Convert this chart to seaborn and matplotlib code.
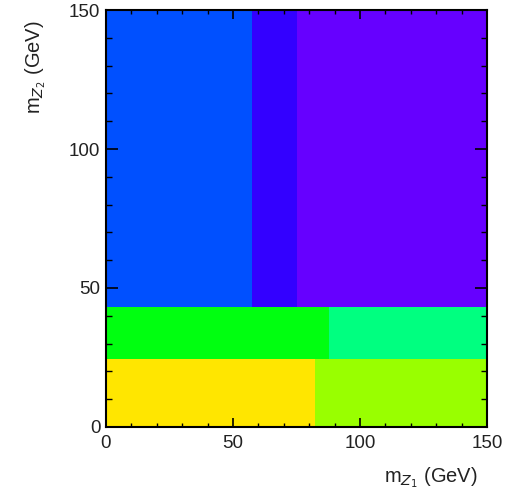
import numpy as np
import seaborn as sns
import matplotlib
matplotlib.use("Agg")
import matplotlib.pyplot as plt
from matplotlib.colors import ListedColormap

# Region layout (GeV)
y_bands = [0.0, 24.5, 43.0, 150.0]                 # horizontal band edges in m_Z2
band_splits = [[82.4], [87.8], [57.4, 75.1]]       # x split points in m_Z1 within each band
band_colors = [["#ffe600", "#99ff00"],
               ["#00ff10", "#00ff80"],
               ["#0050ff", "#3300ff", "#6600ff"]]
x_range = [0.0, 150.0]

sns.set_style("ticks")
plt.rcParams["font.family"] = ["Liberation Sans", "DejaVu Sans"]

# Build palette and a rectilinear grid of cells
palette = [c for row in band_colors for c in row]
x_edges = sorted(set([x_range[0], x_range[1]] + [s for row in band_splits for s in row]))
xc, yc, code = [], [], []
offset = 0
for b in range(len(y_bands) - 1):
    edges_b = [x_range[0]] + band_splits[b] + [x_range[1]]
    for i in range(len(x_edges) - 1):
        xm = 0.5 * (x_edges[i] + x_edges[i + 1])
        ym = 0.5 * (y_bands[b] + y_bands[b + 1])
        k = np.searchsorted(edges_b, xm) - 1
        xc.append(xm)
        yc.append(ym)
        code.append(offset + k + 1)
    offset += len(edges_b) - 1

cmap = ListedColormap(palette)

fig = plt.figure(figsize=(5.15, 4.93), dpi=100)
ax = fig.add_axes([0.2058, 0.1339, 0.9456 - 0.2058, 0.9797 - 0.1339])
sns.histplot(x=xc, y=yc, weights=code, bins=[x_edges, y_bands],
             cmap=cmap, vmin=0.5, vmax=len(palette) + 0.5, ax=ax)
ax.set_axisbelow(False)

ax.set_xlim(0, 150)
ax.set_ylim(0, 150)
ax.set_xticks([0, 50, 100, 150])
ax.set_yticks([0, 50, 100, 150])
ax.set_xticks(np.arange(0, 151, 10), minor=True)
ax.set_yticks(np.arange(0, 151, 10), minor=True)
ax.tick_params(axis="both", which="both", color="black", labelcolor="#222222")
ax.tick_params(axis="x", which="major", direction="in", length=6.5, width=1.2,
               top=True, bottom=True, labelsize=13.5, pad=6)
ax.tick_params(axis="x", which="minor", direction="in", length=3.2, width=1.0,
               top=True, bottom=True)
ax.tick_params(axis="y", which="major", direction="in", length=8.5, width=1.2,
               left=True, right=True, labelsize=13.5, pad=4)
ax.tick_params(axis="y", which="minor", direction="in", length=4.2, width=1.0,
               left=True, right=True)
for s in ax.spines.values():
    s.set_linewidth(1.5)
    s.set_color("black")
    s.set_visible(True)
    s.set_zorder(5)

ax.set_xlabel(r"m$_{Z_1}$ (GeV)", loc="right", fontsize=14.5, color="#222222")
ax.xaxis.set_label_coords(0.976, -0.091)
ax.set_ylabel(r"m$_{Z_2}$ (GeV)", loc="top", fontsize=14.5, color="#222222")
ax.yaxis.set_label_coords(-0.152, 0.976)
ax.grid(False)

fig.savefig("out.png", dpi=100)
